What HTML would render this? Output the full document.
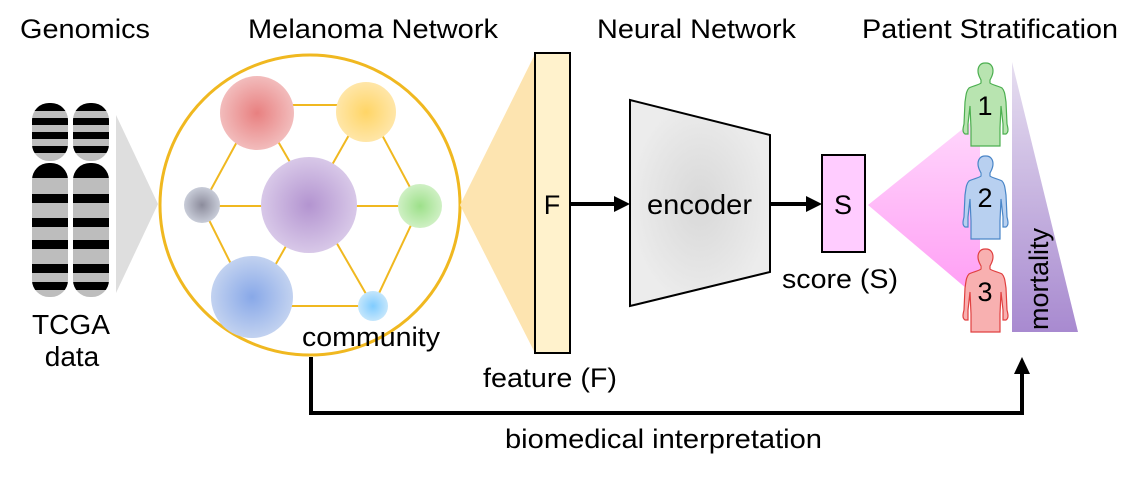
<!DOCTYPE html>
<html><head><meta charset="utf-8"><style>
body{margin:0;background:#fff}
svg text{font-family:"Liberation Sans",Arial,sans-serif;fill:#000}
</style></head><body>
<svg width="1137" height="476" viewBox="0 0 1137 476" xmlns="http://www.w3.org/2000/svg">
<defs>
<radialGradient id="gr"><stop offset="0" stop-color="#e88080"/><stop offset="1" stop-color="#f2bcbc"/></radialGradient>
<radialGradient id="gy"><stop offset="0" stop-color="#ffd566"/><stop offset="1" stop-color="#ffe6a8"/></radialGradient>
<radialGradient id="gp"><stop offset="0" stop-color="#b394d0"/><stop offset="1" stop-color="#d8c8e8"/></radialGradient>
<radialGradient id="gg"><stop offset="0" stop-color="#8c8c9c"/><stop offset="1" stop-color="#c8ccd8"/></radialGradient>
<radialGradient id="ggr"><stop offset="0" stop-color="#9de08a"/><stop offset="1" stop-color="#cff0c4"/></radialGradient>
<radialGradient id="gb"><stop offset="0" stop-color="#88a8e8"/><stop offset="1" stop-color="#c2d2f0"/></radialGradient>
<radialGradient id="glb"><stop offset="0" stop-color="#80ccff"/><stop offset="1" stop-color="#c4e6fc"/></radialGradient>
<radialGradient id="genc"><stop offset="0" stop-color="#d8d8d8"/><stop offset="1" stop-color="#ececec"/></radialGradient>
<linearGradient id="gpink" x1="0" y1="0" x2="0" y2="1"><stop offset="0" stop-color="#ffd8fc"/><stop offset="1" stop-color="#ff9cf4"/></linearGradient>
<linearGradient id="gmort" x1="0" y1="0" x2="0" y2="1"><stop offset="0" stop-color="#e6def0"/><stop offset="1" stop-color="#a88ad0"/></linearGradient>
<clipPath id="chr">
<rect x="32" y="103" width="36" height="58" rx="17"/>
<rect x="73" y="103" width="36" height="58" rx="17"/>
<rect x="32" y="163" width="36" height="134" rx="17"/>
<rect x="73" y="163" width="36" height="134" rx="17"/>
</clipPath>
<path id="person" d="M0,-33 c-5,0 -7,4 -7,8 c0,4 2,7 3,9 l0,3 c-2,2 -9,3 -12,5 c-3,3 -3,8 -4,14 l-1,22 c-1,4 -2,8 1,10 l3,0 l0,-10 l2,-18 l1,22 l0,18 l29,0 l0,-18 l1,-22 l2,18 l0,10 l3,0 c3,-2 2,-6 1,-10 l-1,-22 c-1,-6 -1,-11 -4,-14 c-3,-2 -10,-3 -12,-5 l0,-3 c1,-2 3,-5 3,-9 c0,-4 -2,-8 -7,-8 z"/>
</defs>

<text x="20" y="38" font-size="27" textLength="130" lengthAdjust="spacingAndGlyphs">Genomics</text>
<text x="248" y="38" font-size="27" textLength="250" lengthAdjust="spacingAndGlyphs">Melanoma Network</text>
<text x="597" y="38" font-size="27" textLength="199" lengthAdjust="spacingAndGlyphs">Neural Network</text>
<text x="862" y="38" font-size="27" textLength="256" lengthAdjust="spacingAndGlyphs">Patient Stratification</text>

<!-- chromosomes -->
<g clip-path="url(#chr)">
<rect x="30" y="100" width="82" height="200" fill="#bdbdbd"/>
<g fill="#000">
<rect x="30" y="100" width="82" height="11"/>
<rect x="30" y="118" width="82" height="7"/>
<rect x="30" y="132" width="82" height="7"/>
<rect x="30" y="146" width="82" height="7"/>
<rect x="30" y="163" width="82" height="15"/>
<rect x="30" y="194" width="82" height="9"/>
<rect x="30" y="218" width="82" height="9"/>
<rect x="30" y="240" width="82" height="9"/>
<rect x="30" y="264" width="82" height="9"/>
<rect x="30" y="282" width="82" height="8"/>
</g>
</g>
<polygon points="116,115 158,204 116,293" fill="#dedede"/>
<text x="32" y="334" font-size="28" textLength="78" lengthAdjust="spacingAndGlyphs">TCGA</text>
<text x="72" y="366" font-size="28" text-anchor="middle">data</text>

<!-- network -->
<g stroke="#f0b820" stroke-width="2" fill="none">
<polygon points="257,105 366,105 420,206 373,306 252,306 202,206"/>
<line x1="202" y1="206" x2="420" y2="206"/>
<line x1="257" y1="105" x2="373" y2="306"/>
<line x1="366" y1="105" x2="252" y2="306"/>
</g>
<circle cx="310" cy="205" r="150" fill="none" stroke="#f0b820" stroke-width="3"/>
<circle cx="257" cy="113" r="37" fill="url(#gr)"/>
<circle cx="366" cy="112" r="30" fill="url(#gy)"/>
<circle cx="309" cy="205" r="48" fill="url(#gp)"/>
<circle cx="202" cy="205" r="18" fill="url(#gg)"/>
<circle cx="420" cy="206" r="22" fill="url(#ggr)"/>
<circle cx="252" cy="297" r="41" fill="url(#gb)"/>
<circle cx="373" cy="306" r="15" fill="url(#glb)"/>
<text x="302" y="346" font-size="27" textLength="138" lengthAdjust="spacingAndGlyphs">community</text>

<!-- feature -->
<polygon points="460,205 536,52 536,355" fill="#fde4b0"/>
<rect x="535" y="53" width="35" height="300" fill="#fff2cc" stroke="#000" stroke-width="2"/>
<text x="552" y="214" font-size="27" text-anchor="middle">F</text>
<text x="483" y="387" font-size="27" textLength="134" lengthAdjust="spacingAndGlyphs">feature (F)</text>
<line x1="570" y1="204" x2="616" y2="204" stroke="#000" stroke-width="4"/>
<polygon points="630,204 614,196 614,212" fill="#000"/>

<polygon points="630,100 770,135 770,272 630,306" fill="url(#genc)" stroke="#000" stroke-width="2"/>
<text x="647" y="214" font-size="28" textLength="105" lengthAdjust="spacingAndGlyphs">encoder</text>
<line x1="770" y1="204" x2="808" y2="204" stroke="#000" stroke-width="4"/>
<polygon points="822,204 806,196 806,212" fill="#000"/>

<rect x="822" y="155" width="43" height="97" fill="#ffccff" stroke="#000" stroke-width="2"/>
<text x="843" y="214" font-size="27" text-anchor="middle">S</text>
<text x="782" y="288" font-size="27" textLength="116" lengthAdjust="spacingAndGlyphs">score (S)</text>

<polygon points="868,205 980,115 980,300" fill="url(#gpink)"/>
<polygon points="1012,62 1078,332 1012,332" fill="url(#gmort)"/>
<text transform="translate(1048,330) rotate(-90)" font-size="27">mortality</text>

<use href="#person" x="985" y="96" fill="#b8e4b0" stroke="#4caf50" stroke-width="1.2"/>
<use href="#person" x="985" y="189" fill="#b8d0f0" stroke="#4a86c8" stroke-width="1.2"/>
<use href="#person" x="985" y="282" fill="#f8b0b0" stroke="#e04040" stroke-width="1.2"/>
<text x="985" y="115" font-size="27" text-anchor="middle">1</text>
<text x="985" y="207" font-size="27" text-anchor="middle">2</text>
<text x="985" y="301" font-size="27" text-anchor="middle">3</text>

<!-- bottom connector -->
<polyline points="311,357 311,413 1022,413 1022,372" fill="none" stroke="#000" stroke-width="4"/>
<polygon points="1022,357 1014,374 1030,374" fill="#000"/>
<text x="505" y="448" font-size="27" textLength="317" lengthAdjust="spacingAndGlyphs">biomedical interpretation</text>
</svg>
</body></html>
